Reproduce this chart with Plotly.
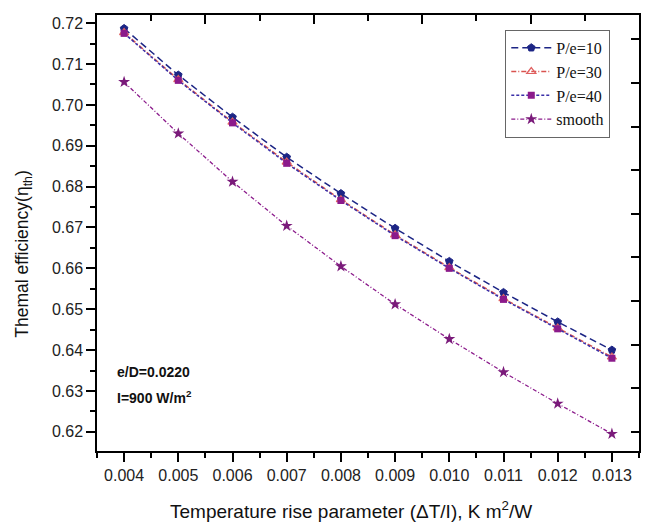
import plotly.graph_objects as go

x_vals = [0.004, 0.005, 0.006, 0.007, 0.008, 0.009, 0.010, 0.011, 0.012, 0.013]
pe10 = [0.7187, 0.7073, 0.6970, 0.6872, 0.6783, 0.6698, 0.6617, 0.6541, 0.6469, 0.6400]
pe30 = [0.7177, 0.7062, 0.6958, 0.6860, 0.6768, 0.6682, 0.6602, 0.6526, 0.6454, 0.6383]
pe40 = [0.7175, 0.7060, 0.6956, 0.6857, 0.6766, 0.6680, 0.6600, 0.6524, 0.6452, 0.6380]
smooth = [0.7056, 0.6930, 0.6812, 0.6704, 0.6605, 0.6512, 0.6427, 0.6346, 0.6269, 0.6195]

series_names = ["P/e=10", "P/e=30", "P/e=40", "smooth"]

fig = go.Figure()
fig.add_trace(go.Scatter(x=x_vals, y=pe10, name=series_names[0], mode="lines+markers",
                         line=dict(color="#1c2585", width=1.5, dash="7px,4px"),
                         marker=dict(symbol="pentagon", size=8, color="#1c2585",
                                     line=dict(color="#1c2585", width=1))))
fig.add_trace(go.Scatter(x=x_vals, y=pe30, name=series_names[1], mode="lines+markers",
                         line=dict(color="#d9534f", width=1.5, dash="5px,2px,1px,2px"),
                         marker=dict(symbol="triangle-up-open", size=8, color="#e06060",
                                     line=dict(width=1.2))))
fig.add_trace(go.Scatter(x=x_vals, y=pe40, name=series_names[2], mode="lines+markers",
                         line=dict(color="#3a2fa8", width=1.5, dash="3px,2px"),
                         marker=dict(symbol="square", size=7, color="#8b1a8b")))
fig.add_trace(go.Scatter(x=x_vals, y=smooth, name=series_names[3], mode="lines+markers",
                         line=dict(color="#8b1a8b", width=1.3, dash="4px,2px,1px,2px"),
                         marker=dict(symbol="star", size=9, color="#7a1a7a")))
# invisible helper trace so the top/right tick axes are drawn
fig.add_trace(go.Scatter(x=[0.0035], y=[0.5], xaxis="x2", yaxis="y2", showlegend=False,
                         mode="markers", marker=dict(opacity=0), hoverinfo="skip"))

tick_font = dict(family="Liberation Sans, Arial, sans-serif", size=16, color="#222")

fig.update_layout(
    width=646, height=523,
    margin=dict(l=97, r=5, t=15, b=72),
    paper_bgcolor="white", plot_bgcolor="white",
    showlegend=True,
    legend=dict(x=0.947, y=0.966, xanchor="right", yanchor="top",
                bgcolor="white", bordercolor="#666", borderwidth=1,
                font=dict(family="Liberation Serif, Times New Roman, serif", size=16, color="#111"),
                tracegroupgap=0, itemwidth=40),
    xaxis=dict(range=[0.0035, 0.0135], tickvals=x_vals, tickformat=".3f",
               ticks="outside", ticklen=9, tickwidth=1.5, tickcolor="black",
               showline=True, linecolor="black", linewidth=1.5, mirror=True,
               showgrid=False, zeroline=False, tickfont=tick_font,
               minor=dict(dtick=0.0005, tick0=0.0035, ticks="outside", ticklen=5,
                          tickwidth=1.5, tickcolor="black", showgrid=False)),
    yaxis=dict(range=[0.6153, 0.7220], dtick=0.01, tick0=0.62, tickformat=".2f",
               ticks="outside", ticklen=9, tickwidth=1.5, tickcolor="black",
               showline=True, linecolor="black", linewidth=1.5, mirror=True,
               showgrid=False, zeroline=False, tickfont=tick_font,
               minor=dict(dtick=0.005, tick0=0.615, ticks="outside", ticklen=5,
                          tickwidth=1.5, tickcolor="black", showgrid=False)),
    xaxis2=dict(overlaying="x", side="top", anchor="y", range=[0.0035, 0.0135],
                tick0=0.0055, dtick=0.002, ticks="inside", ticklen=9, tickwidth=1.5,
                tickcolor="black", showticklabels=False, showgrid=False, zeroline=False,
                showline=True, linecolor="black", linewidth=1.5,
                minor=dict(dtick=0.001, tick0=0.0045, ticks="inside", ticklen=6,
                           tickwidth=1.5, tickcolor="black", showgrid=False)),
    yaxis2=dict(overlaying="y", side="right", anchor="x", range=[0, 1],
                tick0=0.044, dtick=0.1, ticks="inside", ticklen=8, tickwidth=1.5,
                tickcolor="black", showticklabels=False, showgrid=False, zeroline=False,
                showline=True, linecolor="black", linewidth=1.5),
)

fig.add_annotation(text="Temperature rise parameter (ΔT/I), K m<sup>2</sup>/W",
                   xref="paper", yref="paper", x=0.469, y=-0.135, showarrow=False,
                   xanchor="center", yanchor="middle",
                   font=dict(family="Liberation Sans, Arial, sans-serif", size=19, color="#111"))
fig.add_annotation(text="Themal efficiency(η<sub>th</sub>)",
                   xref="paper", yref="paper", x=-0.135, y=0.452, showarrow=False,
                   textangle=-90, xanchor="center", yanchor="middle",
                   font=dict(family="Liberation Sans, Arial, sans-serif", size=17.5, color="#111"))
fig.add_annotation(text="<b>e/D=0.0220</b>", xref="paper", yref="paper",
                   x=0.033, y=0.182, showarrow=False, xanchor="left", yanchor="middle",
                   font=dict(family="Liberation Sans, Arial, sans-serif", size=14, color="#111"))
fig.add_annotation(text="<b>I=900 W/m<sup>2</sup></b>", xref="paper", yref="paper",
                   x=0.033, y=0.124, showarrow=False, xanchor="left", yanchor="middle",
                   font=dict(family="Liberation Sans, Arial, sans-serif", size=14, color="#111"))

fig.write_html("out.html", config={"displayModeBar": False},
               post_script=("document.documentElement.style.overflow='hidden';"
                            "document.body.style.overflow='hidden';"
                            "document.body.style.margin='0';document.body.style.padding='0';"))
